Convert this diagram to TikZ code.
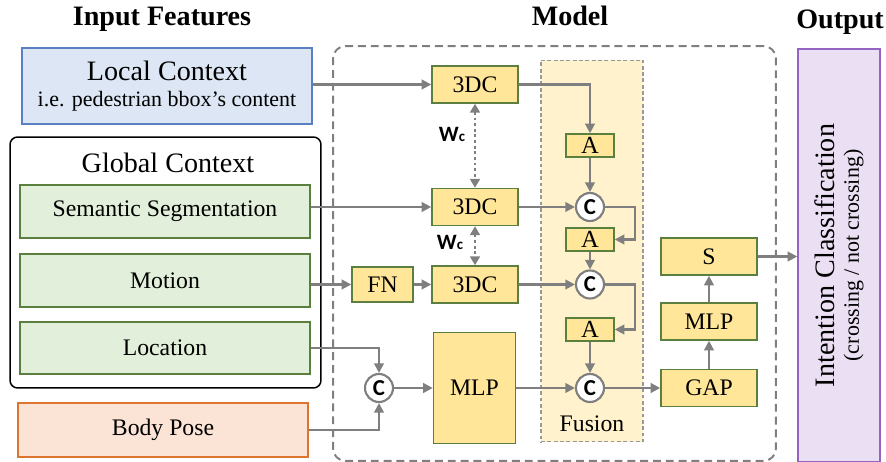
\documentclass[tikz,border=0pt]{standalone}
\usepackage{fontspec}
\setmainfont{Liberation Serif}
\newfontfamily\catfont{Carlito}
\usetikzlibrary{positioning,arrows.meta}

\definecolor{localblue}{HTML}{DCE6F4}
\definecolor{localedge}{HTML}{5A7FC2}
\definecolor{featgreen}{HTML}{E2EFDA}
\definecolor{featedge}{HTML}{5B7F3E}
\definecolor{poseorange}{HTML}{FBE4D6}
\definecolor{poseedge}{HTML}{DD7430}
\definecolor{blockyellow}{HTML}{FFE699}
\definecolor{fusionyellow}{HTML}{FFF2CC}
\definecolor{outpurple}{HTML}{EADFF3}
\definecolor{outedge}{HTML}{9563C1}
\definecolor{arrowgray}{HTML}{7F7F7F}

\begin{document}
\begin{tikzpicture}[x=0.02cm, y=-0.02cm,
    every node/.style={inner sep=0pt},
    feat/.style={draw=featedge, fill=featgreen, line width=0.85pt, minimum width=5.8cm,
        font=\fontsize{13.5}{15}\selectfont},
    block/.style={draw=featedge, fill=blockyellow, line width=0.85pt,
        font=\fontsize{13.5}{15}\selectfont},
    dcblock/.style={block, minimum width=1.72cm, minimum height=0.74cm},
    attblock/.style={block, minimum width=0.96cm, minimum height=0.46cm, font=\fontsize{14}{15}\selectfont},
    headblock/.style={block, minimum width=1.92cm, minimum height=0.74cm},
    cat/.style={circle, draw=arrowgray, fill=white, line width=1.2pt, minimum size=0.56cm,
        font=\catfont\bfseries\fontsize{13}{13}\selectfont},
    title/.style={anchor=base, font=\bfseries\fontsize{16}{18}\selectfont},
    flow/.style={draw=arrowgray, line width=1.2pt, -{Triangle[length=5.5pt, width=5.5pt]}},
    shared/.style={draw=arrowgray, line width=1.6pt, dash pattern=on 1.6pt off 1.6pt,
        {Triangle[length=5pt, width=5.5pt]}-{Triangle[length=5pt, width=5.5pt]}},
    wlabel/.style={font=\catfont\bfseries\fontsize{12.5}{13}\selectfont}
]
\useasboundingbox (0,0) rectangle (886,462);

% Titoli
\node[title] (tin) at (162,26) {Input Features};
\node[title] (tmod) at (570,26) {Model};
\node[title] (tout) at (840,29) {Output};

% Cornici
\node[draw=arrowgray, line width=1.1pt, dash pattern=on 4.5pt off 2.8pt, rounded corners=0.25cm,
    minimum width=8.86cm, minimum height=8.3cm] (model) at (554.5,253.5) {};
\node[draw=arrowgray!80, fill=fusionyellow, line width=0.6pt, dash pattern=on 2.2pt off 1.4pt,
    minimum width=2.04cm, minimum height=7.64cm] (fusion) at (592,251) {};
\node[font=\fontsize{13.5}{15}\selectfont] (fuslabel) at (592,424) {Fusion};
\node[draw, line width=0.85pt, rounded corners=0.15cm, minimum width=6.22cm,
    minimum height=5.02cm] (global) at (165.5,262.5) {};
\node[font=\fontsize{16}{18}\selectfont] (glabel) at (168,163) {Global Context};

% Ingressi
\node[draw=localedge, fill=localblue, line width=0.85pt, minimum width=5.8cm, minimum height=1.52cm,
    align=center] (loc) at (167,86)
    {{\fontsize{16}{18}\selectfont Local Context}\\[3pt]{\fontsize{12.5}{14}\selectfont i.e. pedestrian bbox’s content}};
\node[feat, minimum height=1.06cm] (seg) at (165,211.5) {Semantic Segmentation};
\node[feat, minimum height=1.06cm] (mot) at (165,280.5) {Motion};
\node[feat, minimum height=1.04cm] (locn) at (165,348) {Location};
\node[feat, draw=poseedge, fill=poseorange, minimum height=1.08cm] (pose) at (163,430) {Body Pose};

% Modello
\node[dcblock] (dcA) at (475,84.5) {3DC};
\node[dcblock] (dcB) at (475,207) {3DC};
\node[dcblock] (dcC) at (475,284.5) {3DC};
\node[block, minimum width=1.22cm, minimum height=0.7cm] (fn) at (382.5,284.5) {FN};
\node[block, minimum width=1.64cm, minimum height=2.22cm] (mlpA) at (474.5,388) {MLP};
\node[cat] (catL) at (379,388) {C};

\node[attblock] (attA) at (590,145.5) {A};
\node[cat] (catA) at (590,207) {C};
\node[attblock] (attB) at (590,239.5) {A};
\node[cat] (catB) at (590,284.5) {C};
\node[attblock] (attC) at (590,329.5) {A};
\node[cat] (catC) at (590,388) {C};

\node[headblock] (gap) at (709,388) {GAP};
\node[headblock] (mlpB) at (709,321.5) {MLP};
\node[headblock] (soft) at (709,256.5) {S};

\node[wlabel] (wA) at (452,134) {W{\fontsize{8.5}{9}\selectfont c}};
\node[wlabel] (wB) at (450,242) {W{\fontsize{8.5}{9}\selectfont c}};

% Uscita
\node[draw=outedge, fill=outpurple, line width=0.85pt, rotate=90, minimum width=8.26cm,
    minimum height=1.64cm, align=center] (out) at (839,255.5)
    {{\fontsize{16}{18}\selectfont Intention Classification}\\[2pt]{\fontsize{12.5}{14}\selectfont(crossing / not crossing)}};

% Collegamenti
\draw[flow] (loc.east |- dcA) -- (dcA);
\draw[flow] (seg.east |- dcB) -- (dcB);
\draw[flow] (mot.east |- fn) -- (fn);
\draw[flow] (fn) -- (dcC);
\draw[flow] (locn.east) -| (catL.north);
\draw[flow] (pose.east) -| (catL.south);
\draw[flow] (catL) -- (mlpA);
\draw[shared] (dcA) -- (dcB);
\draw[shared] (dcB) -- (dcC);

\draw[flow] (dcA.east) -| (attA.north);
\draw[flow] (attA) -- (catA);
\draw[flow] (dcB) -- (catA);
\draw[flow] (catA.east) -- ++(30,0) |- (attB.east);
\draw[flow] (attB) -- (catB);
\draw[flow] (dcC) -- (catB);
\draw[flow] (catB.east) -- ++(30,0) |- (attC.east);
\draw[flow] (attC) -- (catC);
\draw[flow] (mlpA) -- (catC);
\draw[flow] (catC) -- (gap);
\draw[flow] (gap) -- (mlpB);
\draw[flow] (mlpB) -- (soft);
\draw[flow] (soft.east) -- (soft.east -| out.north);
\end{tikzpicture}
\end{document}
